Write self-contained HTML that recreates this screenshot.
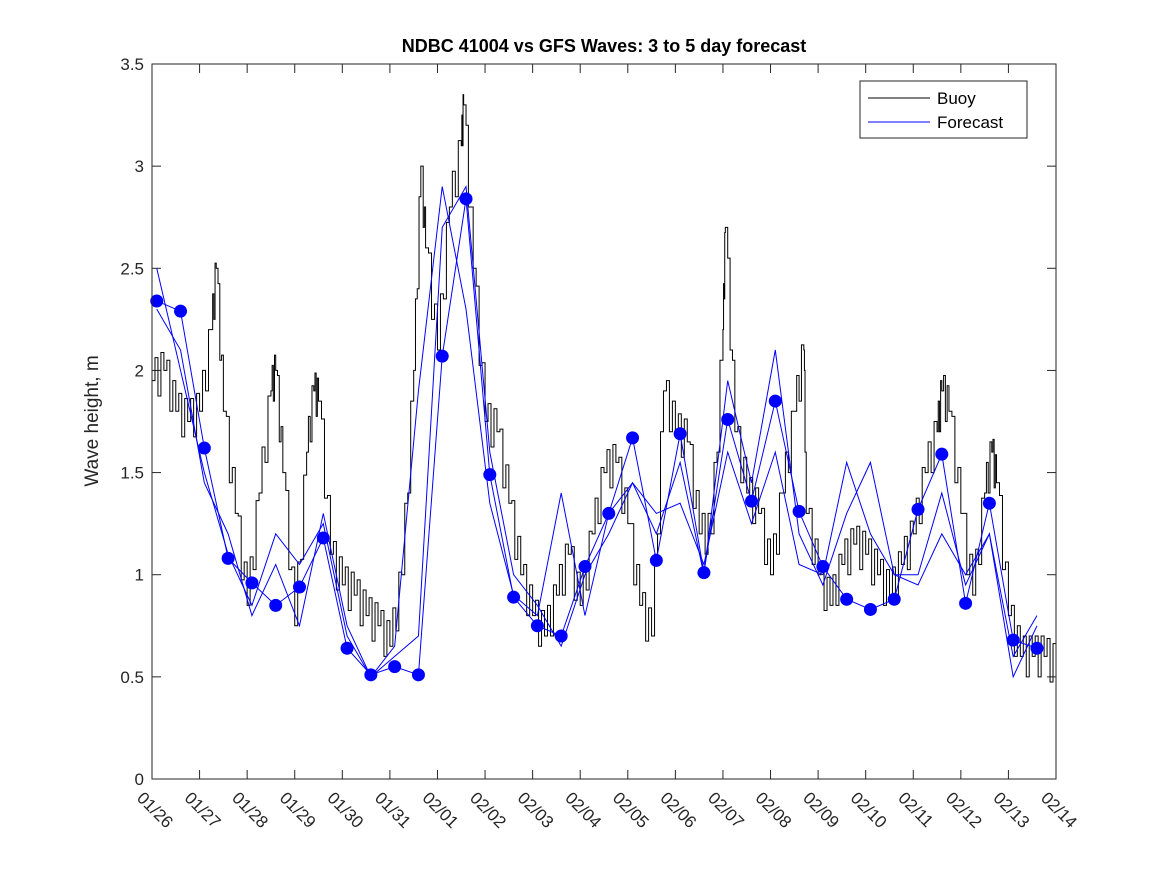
<!DOCTYPE html>
<html><head><meta charset="utf-8"><style>
body{margin:0;background:#fff;}
svg{display:block;font-family:"Liberation Sans",sans-serif;}
</style></head><body>
<svg id="chart" width="1167" height="875">
<rect width="1167" height="875" fill="#fff"/>
<text x="604" y="52" text-anchor="middle" font-size="18" font-weight="bold">NDBC 41004 vs GFS Waves: 3 to 5 day forecast</text>
<text transform="translate(98,421) rotate(-90)" text-anchor="middle" font-size="19" fill="#262626">Wave height, m</text>
<g id="grid"></g>
<g id="series"></g>
<rect x="152" y="64" width="904" height="715" fill="none" stroke="#262626" stroke-width="1"/>
<g>
<rect x="860" y="81" width="167" height="57" fill="#fff" stroke="#262626"/>
<g><line x1="868" y1="98" x2="930" y2="98" stroke="#000"/><text x="937" y="104" font-size="17">Buoy</text></g>
<g><line x1="868" y1="122" x2="930" y2="122" stroke="#00f"/><text x="937" y="128" font-size="17">Forecast</text></g>
</g>
</svg>
<script>
const dateLabels=["01/26","01/27","01/28","01/29","01/30","01/31","02/01","02/02","02/03","02/04","02/05","02/06","02/07","02/08","02/09","02/10","02/11","02/12","02/13","02/14"];
const yTicks=[0,0.5,1,1.5,2,2.5,3,3.5];
const buoy=[1.95,2.0,1.8,1.75,1.8,2.2,1.8,1.3,0.85,1.4,1.9,1.5,0.75,1.6,1.85,1.1,0.95,0.9,0.8,0.75,0.65,1.0,2.0,2.6,2.1,2.8,3.1,2.5,1.75,1.7,1.35,1.0,0.8,0.7,0.9,1.1,0.85,1.2,1.5,1.55,1.25,0.85,0.7,1.9,1.7,1.65,1.2,1.2,2.2,1.7,1.4,1.3,1.0,1.4,1.8,1.3,1.0,0.85,1.05,1.15,1.1,1.0,0.9,1.05,1.2,1.5,1.7,1.8,1.3,0.9,1.4,1.45,0.8,0.6,0.6,0.6,0.55];
const buoyPeaks=[[1.35,2.5],[2.6,2.0],[3.4,1.9],[5.65,3.0],[6.55,3.3],[12.05,2.7],[13.7,2.1],[16.6,1.9],[17.65,1.6]];
const fcDots=[2.34,2.29,1.62,1.08,0.96,0.85,0.94,1.18,0.64,0.51,0.55,0.51,2.07,2.84,1.49,0.89,0.75,0.70,1.04,1.30,1.67,1.07,1.69,1.01,1.76,1.36,1.85,1.31,1.04,0.88,0.83,0.88,1.32,1.59,0.86,1.35,0.68,0.64];
const fcA=[2.34,2.29,1.62,1.08,0.96,0.85,0.94,1.18,0.64,0.51,0.55,0.51,2.07,2.84,1.49,0.89,0.75,0.70,1.04,1.30,1.67,1.07,1.69,1.01,1.76,1.36,1.85,1.31,1.04,0.88,0.83,0.88,1.32,1.59,0.86,1.35,0.68,0.64];
const fcB=[2.5,2.0,1.5,1.1,0.85,1.2,1.05,1.25,0.7,0.5,0.6,0.7,2.7,2.9,1.6,1.0,0.85,0.65,1.0,1.2,1.45,1.2,1.55,1.0,1.95,1.45,2.1,1.2,0.95,1.3,1.55,1.0,1.0,1.4,0.95,1.2,0.5,0.75];
const fcC=[2.3,2.1,1.45,1.2,0.8,1.05,0.75,1.3,0.75,0.5,0.65,1.9,2.9,2.3,1.35,0.9,0.8,1.4,0.8,1.3,1.45,1.3,1.35,1.05,1.6,1.25,1.6,1.05,1.0,1.55,1.2,1.0,0.95,1.2,1.0,1.2,0.6,0.8];
const NS="http://www.w3.org/2000/svg";
const X0=152,X1=1056,Y0=779,Y1=64;
const xs=d=>X0+(X1-X0)*d/19;
const ys=v=>Y0-(Y0-Y1)*v/3.5;
function mk(tag,attrs,parent){const e=document.createElementNS(NS,tag);for(const k in attrs)e.setAttribute(k,attrs[k]);parent.appendChild(e);return e;}
const grid=document.getElementById('grid'),ser=document.getElementById('series');
yTicks.forEach(v=>{
  const t=mk('text',{x:X0-8,y:ys(v)+6,'text-anchor':'end','font-size':'17',fill:'#262626'},grid);
  
  
  t.textContent=v;
  mk('line',{x1:X0,x2:X0+9,y1:ys(v),y2:ys(v),stroke:'#262626'},grid);
  mk('line',{x1:X1,x2:X1-9,y1:ys(v),y2:ys(v),stroke:'#262626'},grid);
});
dateLabels.forEach((l,i)=>{
  const x=xs(i);
  mk('line',{x1:x,x2:x,y1:Y0,y2:Y0-9,stroke:'#262626'},grid);
  mk('line',{x1:x,x2:x,y1:Y1,y2:Y1+9,stroke:'#262626'},grid);
  const t=mk('text',{transform:`translate(${x-16},${Y0+20}) rotate(45)`,'font-size':'17',fill:'#262626'},grid);
  
  
  t.textContent=l;
});
let pts=[];
buoy.forEach((v,i)=>pts.push([i*0.25,v]));
buoyPeaks.forEach(p=>pts.push(p));
pts.sort((a,b)=>a[0]-b[0]);
let path='';
pts.forEach((p,i)=>{
  const x=xs(p[0]),y=ys(p[1]);
  if(i==0){path+=`M${x},${y}`;return;}
  const q=pts[i-1];
  // ramp with small steps between consecutive samples
  const n=4;
  for(let k=1;k<=n;k++){
    const xx=xs(q[0]+(p[0]-q[0])*k/n);
    const vv=q[1]+(p[1]-q[1])*k/n+((k%2)?0.1:-0.1)*(k<n?1:0);
    path+=`H${xx}V${ys(vv)}`;
  }
});
const bl=mk('path',{d:path,fill:'none',stroke:'#000','stroke-width':'1'},ser);


[fcA,fcB,fcC].forEach(arr=>{
  const d=arr.map((v,i)=>(i?'L':'M')+xs(0.1+0.5*i)+','+ys(v)).join('');
  const p=mk('path',{d:d,fill:'none',stroke:'#00f','stroke-width':'1'},ser);
  
  
});
fcDots.forEach((v,i)=>{
  const c=mk('circle',{cx:xs(0.1+0.5*i),cy:ys(v),r:6.5,fill:'#00f'},ser);
  
  
});
</script>
</body></html>
